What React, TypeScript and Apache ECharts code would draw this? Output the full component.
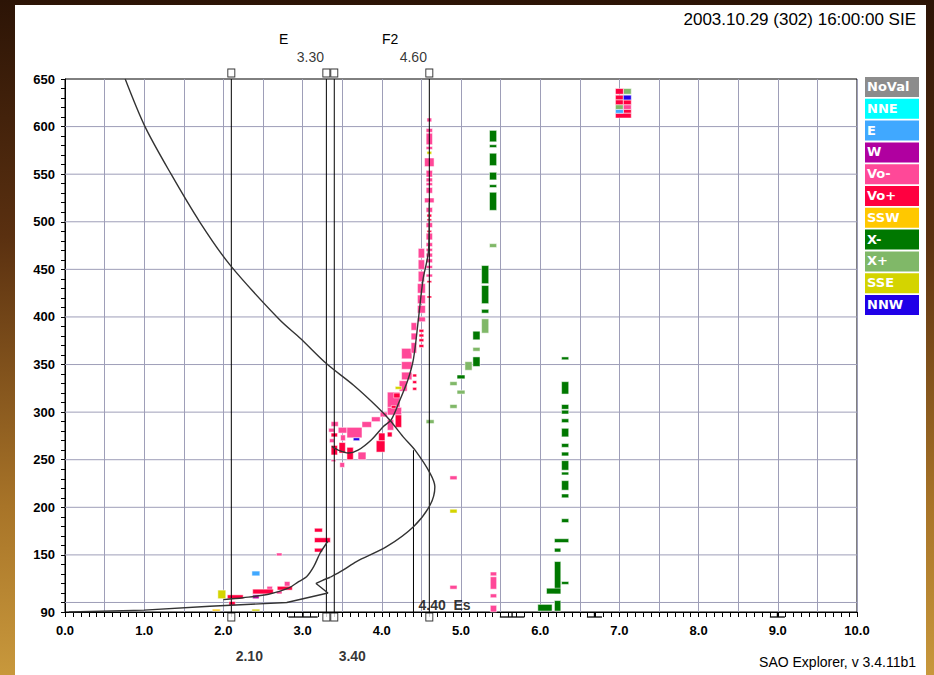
import React, { useEffect, useRef } from "react";
import * as echarts from "echarts";

const TITLE = "2003.10.29 (302) 16:00:00 SIE";
const FOOTER = "SAO Explorer, v 3.4.11b1";
const Y_LABELS = [90, 150, 200, 250, 300, 350, 400, 450, 500, 550, 600, 650];
const H_GRID = [100, 150, 200, 250, 300, 350, 400, 450, 500, 550, 600];
const LEGEND_NAMES = ["NoVal", "NNE", "E", "W", "Vo-", "Vo+", "SSW", "X-", "X+", "SSE", "NNW"];
const LEGEND_COLORS = ["#8c8c8c", "#00ffff", "#40a8ff", "#b000a0", "#ff4898", "#ff0040", "#ffc800", "#007800", "#80b868", "#d4d400", "#2000e8"];

// cells: [fLow, fHigh, hLow, hHigh]
const VO_PLUS = [
  [2.05, 2.25, 104, 108], [2.07, 2.15, 97, 101], [2.37, 2.63, 109, 114], [2.68, 2.87, 113, 117],
  [3.15, 3.25, 174, 178], [3.15, 3.35, 163, 168], [3.15, 3.25, 153, 157],
  [3.36, 3.44, 274, 278], [3.36, 3.44, 255, 265], [3.46, 3.54, 257, 268], [3.56, 3.64, 250, 263],
  [3.93, 4.04, 258, 270], [3.96, 4.04, 270, 278], [4.17, 4.25, 284, 297], [4.07, 4.13, 274, 279],
  [4.15, 4.23, 315, 320], [4.12, 4.18, 304, 307],
  [4.39, 4.44, 337, 340], [4.39, 4.44, 330, 333], [4.39, 4.44, 323, 326],
  [4.47, 4.53, 384, 387], [4.47, 4.53, 379, 382], [4.47, 4.53, 374, 377], [4.47, 4.53, 368, 371],
  [4.57, 4.63, 505, 508], [4.57, 4.63, 501, 503], [4.57, 4.63, 489, 491], [4.57, 4.63, 436, 438], [4.57, 4.63, 420, 422],
  [6.95, 7.05, 634, 640], [6.95, 7.05, 628, 633], [6.95, 7.05, 623, 628], [7.05, 7.15, 623, 628],
  [7.05, 7.15, 614, 618], [6.95, 7.15, 609, 614],
];
const VO_MINUS = [
  [2.55, 2.62, 113, 117], [2.67, 2.74, 109, 112], [2.77, 2.84, 117, 122], [2.67, 2.74, 149, 152],
  [3.36, 3.45, 285, 290], [3.45, 3.56, 278, 284], [3.56, 3.75, 273, 284], [3.75, 3.87, 284, 290],
  [3.87, 3.98, 290, 295], [3.98, 4.07, 295, 300], [3.36, 3.42, 248, 250], [3.47, 3.53, 242, 247],
  [3.34, 3.40, 268, 272], [3.48, 3.54, 270, 276], [3.70, 3.80, 250, 258], [3.33, 3.40, 279, 283],
  [4.07, 4.23, 305, 321], [4.07, 4.25, 297, 305], [4.07, 4.15, 281, 292],
  [4.22, 4.32, 322, 333], [4.25, 4.38, 334, 342], [4.25, 4.38, 345, 353], [4.25, 4.38, 356, 367],
  [4.37, 4.44, 362, 373], [4.37, 4.44, 376, 383], [4.37, 4.44, 386, 394],
  [4.45, 4.55, 395, 400], [4.45, 4.55, 404, 412], [4.45, 4.55, 414, 423], [4.45, 4.55, 425, 435],
  [4.46, 4.54, 437, 448], [4.46, 4.54, 450, 460], [4.46, 4.54, 462, 472],
  [4.56, 4.64, 442, 445], [4.56, 4.64, 451, 454], [4.56, 4.64, 457, 461], [4.56, 4.64, 463, 467], [4.56, 4.64, 469, 472],
  [4.56, 4.64, 474, 478], [4.56, 4.64, 481, 488], [4.56, 4.64, 494, 499], [4.56, 4.64, 510, 515],
  [4.54, 4.66, 520, 525], [4.56, 4.64, 530, 536], [4.56, 4.64, 538, 541], [4.56, 4.64, 542, 546], [4.56, 4.64, 547, 554],
  [4.54, 4.66, 558, 567], [4.56, 4.64, 576, 579], [4.56, 4.64, 581, 593], [4.56, 4.64, 594, 598], [4.57, 4.63, 605, 609],
  [4.86, 4.95, 229, 233], [4.86, 4.95, 114, 118],
  [5.37, 5.45, 128, 132], [5.37, 5.45, 114, 127], [5.37, 5.45, 105, 109], [5.37, 5.45, 90, 97],
  [7.05, 7.15, 618, 623],
];
const X_MINUS = [
  [5.36, 5.45, 584, 596], [5.36, 5.45, 578, 581], [5.36, 5.45, 559, 572], [5.36, 5.45, 544, 552],
  [5.36, 5.45, 536, 539], [5.36, 5.45, 512, 531],
  [5.26, 5.35, 435, 454], [5.26, 5.35, 414, 433], [5.26, 5.35, 404, 408],
  [5.15, 5.24, 376, 385], [5.15, 5.24, 348, 358], [4.95, 5.05, 335, 339],
  [6.27, 6.36, 355, 358], [6.27, 6.36, 319, 332], [6.27, 6.36, 303, 308], [6.27, 6.36, 298, 302],
  [6.27, 6.36, 289, 293], [6.27, 6.36, 274, 283], [6.27, 6.36, 263, 267], [6.27, 6.36, 254, 258],
  [6.27, 6.36, 239, 249], [6.27, 6.36, 234, 237], [6.27, 6.36, 218, 228], [6.27, 6.36, 210, 214],
  [6.27, 6.36, 184, 188], [6.18, 6.36, 163, 167], [6.18, 6.26, 153, 157], [6.18, 6.26, 109, 143],
  [6.27, 6.36, 119, 122], [6.08, 6.26, 109, 115], [5.97, 6.15, 91, 98], [6.18, 6.26, 91, 102],
];
const X_PLUS = [
  [5.36, 5.45, 473, 477], [5.26, 5.35, 383, 398], [5.15, 5.24, 364, 368], [5.05, 5.14, 344, 353],
  [4.86, 4.95, 328, 332], [4.95, 5.05, 319, 323], [4.86, 4.95, 304, 308], [4.56, 4.66, 288, 292],
  [7.05, 7.15, 634, 640], [6.95, 7.05, 618, 623],
];
const SSE = [[1.93, 2.03, 104, 113], [2.36, 2.46, 91, 93], [4.86, 4.95, 194, 198], [4.17, 4.25, 324, 327], [4.57, 4.63, 571, 574]];
const SSW = [[1.86, 1.96, 91, 93]];
const E_DIR = [[2.36, 2.46, 128, 133], [6.95, 7.05, 614, 618]];
const W_DIR = [[2.37, 2.45, 104, 108]];
const NNW = [[3.64, 3.72, 270, 273], [7.05, 7.15, 628, 633]];

// true-height profile; first 8 points are the E-region part drawn unsmoothed
const PROFILE = [
  [0.05, 90], [1.0, 92], [1.83, 96], [2.8, 100], [3.32, 110], [3.17, 120], [3.26, 123.6], [3.35, 126.5],
  [3.51, 134], [3.68, 143], [4.06, 158.6], [4.4, 179.6], [4.61, 202.4], [4.67, 221.6], [4.61, 235.7],
  [4.42, 260], [4.27, 274], [4.1, 291.7], [3.94, 305.7], [3.64, 328.5], [3.3, 351], [2.97, 377.6],
  [2.71, 397], [2.08, 455], [1.7, 500], [1.34, 550], [1.01, 600], [0.76, 650],
];
const PROFILE_SPLIT = 7;
const VIRTUAL_E = [[2.0, 103], [2.25, 105], [2.57, 108.6], [2.82, 115], [2.95, 122], [3.05, 127], [3.14, 137.6], [3.22, 151.7], [3.3, 162], [3.32, 164]];
const VIRTUAL_F = [[3.37, 264], [3.45, 260], [3.58, 257], [3.7, 260], [3.87, 271], [4.02, 285], [4.12, 292], [4.23, 313], [4.33, 334], [4.4, 356], [4.46, 396], [4.52, 439], [4.59, 470], [4.6, 520]];

const SCALED_FREQS = [2.1, 3.3, 3.4, 4.6];
const TOP_LABELS = [[3.3, "3.30"], [4.6, "4.60"]];
const BOTTOM_LABELS = [[2.1, "2.10"], [3.4, "3.40"]];
const ES_FREQ = 4.4;
const ES_TOP = 260;
const ES_LABEL = "4.40  Es";
const GAP_BARS = [[2.82, 3.19], [5.49, 5.8], [6.59, 6.78], [8.9, 9.09]];

const NARROW = '"Liberation Sans Narrow", "Arial Narrow", "Liberation Sans", Arial, sans-serif';
const GRID_COLOR = "#9e9eb8";
const LINE_COLOR = "#333333";

function cellSeries(name: string, color: string, data: number[][]) {
  return {
    type: "custom",
    name,
    coordinateSystem: "cartesian2d",
    data,
    encode: { x: [0, 1], y: [2, 3] },
    z: 3,
    renderItem: (params: any, api: any) => {
      const a = api.coord([api.value(0), api.value(3)]);
      const b = api.coord([api.value(1), api.value(2)]);
      return {
        type: "rect",
        shape: { x: a[0], y: a[1], width: b[0] - a[0], height: b[1] - a[1] },
        style: { fill: color, stroke: "rgba(255,255,255,0.85)", lineWidth: 0.6 },
      };
    },
  };
}

function curve(data: number[][], smooth: number) {
  return {
    type: "line", data, showSymbol: false, z: 7, silent: true, smooth,
    lineStyle: { color: LINE_COLOR, width: 1.4 },
  };
}

export default function App() {
  const ref = useRef<HTMLDivElement>(null);
  useEffect(() => {
    if (!ref.current) return;
    const chart = echarts.init(ref.current, null, { renderer: "svg" });
    const legendGraphics: any[] = [];
    LEGEND_NAMES.forEach((n, i) => {
      const y = 77 + i * 21.8;
      legendGraphics.push({ type: "rect", left: 865, top: y, shape: { width: 54, height: 20 }, style: { fill: LEGEND_COLORS[i] }, z: 10 });
      legendGraphics.push({ type: "text", left: 867, top: y + 3, style: { text: n, fill: "#fff", font: 'bold 13px "DejaVu Sans", Verdana, sans-serif' }, z: 11 });
    });
    const option: any = {
      animation: false,
      backgroundColor: "transparent",
      grid: { left: 65, top: 79, width: 792, height: 533, show: true, backgroundColor: "#fff", borderColor: "#000", borderWidth: 1 },
      xAxis: {
        type: "value", min: 0, max: 10, interval: 0.5,
        axisLine: { show: true, lineStyle: { color: "#000", width: 1 } },
        axisTick: { show: true, length: 5, lineStyle: { color: "#000" } },
        minorTick: { show: true, splitNumber: 5, length: 5, lineStyle: { color: "#000" } },
        splitLine: { show: true, lineStyle: { color: GRID_COLOR, width: 1 } },
        axisLabel: {
          margin: 12, color: "#000", fontSize: 13, fontWeight: "bold", fontFamily: NARROW,
          formatter: (v: number) => (Math.abs(v - Math.round(v)) < 1e-6 ? v.toFixed(1) : ""),
        },
      },
      yAxis: {
        type: "value", min: 90, max: 650, interval: 10,
        axisLine: { show: true, lineStyle: { color: "#000", width: 1 } },
        axisTick: { show: true, length: 4, lineStyle: { color: "#000" } },
        splitLine: { show: false },
        axisLabel: {
          margin: 10, color: "#000", fontSize: 13, fontWeight: "bold", fontFamily: NARROW,
          formatter: (v: number) => (Y_LABELS.includes(Math.round(v)) ? String(Math.round(v)) : ""),
        },
      },
      graphic: [
        { type: "text", right: 18, top: 11, style: { text: TITLE, fill: "#000", font: '17px "Liberation Sans", Arial, sans-serif' } },
        { type: "text", right: 18, top: 655, style: { text: FOOTER, fill: "#000", font: '14px "Liberation Sans Narrow", "Liberation Sans", Arial, sans-serif' } },
        { type: "text", left: 279, top: 32, style: { text: "E", fill: "#000", font: "14px " + NARROW } },
        { type: "text", left: 382, top: 32, style: { text: "F2", fill: "#000", font: "14px " + NARROW } },
        ...legendGraphics,
      ],
      series: [
        {
          type: "custom", coordinateSystem: "cartesian2d", data: H_GRID.map((h) => [0, h]), z: 1, silent: true,
          renderItem: (p: any, api: any) => {
            const a = api.coord([0, api.value(1)]);
            const b = api.coord([10, api.value(1)]);
            return { type: "line", shape: { x1: a[0], y1: a[1], x2: b[0], y2: b[1] }, style: { stroke: GRID_COLOR, lineWidth: 1 } };
          },
        },
        cellSeries("X-", LEGEND_COLORS[7], X_MINUS),
        cellSeries("X+", LEGEND_COLORS[8], X_PLUS),
        cellSeries("Vo-", LEGEND_COLORS[4], VO_MINUS),
        cellSeries("Vo+", LEGEND_COLORS[5], VO_PLUS),
        cellSeries("SSE", LEGEND_COLORS[9], SSE),
        cellSeries("SSW", LEGEND_COLORS[6], SSW),
        cellSeries("E", LEGEND_COLORS[2], E_DIR),
        cellSeries("W", LEGEND_COLORS[3], W_DIR),
        cellSeries("NNW", LEGEND_COLORS[10], NNW),
        {
          type: "custom", coordinateSystem: "cartesian2d", data: SCALED_FREQS.map((f) => [f, 90]), z: 6, silent: true,
          renderItem: (p: any, api: any) => {
            const a = api.coord([api.value(0), 90]);
            const b = api.coord([api.value(0), 650]);
            return { type: "line", shape: { x1: a[0], y1: a[1], x2: b[0], y2: b[1] }, style: { stroke: "#000", lineWidth: 1 } };
          },
        },
        {
          type: "custom", coordinateSystem: "cartesian2d", data: GAP_BARS.map((g) => [g[0], g[1]]), z: 6, silent: true,
          renderItem: (p: any, api: any) => {
            const a = api.coord([api.value(0), 90]);
            const b = api.coord([api.value(1), 90]);
            const m = (a[0] + b[0]) / 2;
            return {
              type: "group",
              children: [
                { type: "line", shape: { x1: a[0], y1: a[1] + 5, x2: b[0], y2: b[1] + 5 }, style: { stroke: "#000", lineWidth: 1.3 } },
                { type: "line", shape: { x1: m, y1: a[1], x2: m, y2: a[1] + 5 }, style: { stroke: "#000", lineWidth: 1.3 } },
              ],
            };
          },
        },
        {
          type: "line", data: [[ES_FREQ, 90], [ES_FREQ, ES_TOP]], showSymbol: false, z: 6, silent: true,
          lineStyle: { color: "#000", width: 1 },
        },
        curve(PROFILE.slice(0, PROFILE_SPLIT + 1), 0),
        curve(PROFILE.slice(PROFILE_SPLIT), 0.3),
        curve(VIRTUAL_E, 0.3),
        curve(VIRTUAL_F, 0.3),
        {
          type: "scatter", clip: false, z: 8, silent: true, symbol: "rect", symbolSize: [7, 8], symbolOffset: [0, -6],
          data: SCALED_FREQS.map((f) => [f, 650]),
          itemStyle: { color: "#fff", borderColor: "#000", borderWidth: 1 },
        },
        {
          type: "scatter", clip: false, z: 8, silent: true, symbol: "rect", symbolSize: [7, 8], symbolOffset: [0, 5],
          data: SCALED_FREQS.map((f) => [f, 90]),
          itemStyle: { color: "#fff", borderColor: "#000", borderWidth: 1 },
        },
        {
          type: "scatter", clip: false, z: 8, silent: true, symbolSize: 0,
          data: TOP_LABELS.map((t) => ({ value: [t[0], 650], name: t[1] })),
          label: { show: true, position: "top", distance: 15, offset: [-16, 0], formatter: "{b}", color: "#000", fontSize: 14, fontFamily: NARROW },
        },
        {
          type: "scatter", clip: false, z: 8, silent: true, symbolSize: 0,
          data: BOTTOM_LABELS.map((t) => ({ value: [t[0], 90], name: t[1] })),
          label: { show: true, position: "bottom", distance: 37, offset: [18, 0], formatter: "{b}", color: "#000", fontSize: 14, fontWeight: "bold", fontFamily: NARROW },
        },
        {
          type: "scatter", clip: false, z: 8, silent: true, symbolSize: 0,
          data: [{ value: [ES_FREQ, 90], name: ES_LABEL }],
          label: { show: true, position: "right", distance: 5, offset: [0, -7], formatter: "{b}", color: "#000", fontSize: 14, fontWeight: "bold", fontFamily: NARROW },
        },
      ],
    };
    chart.setOption(option);
    return () => chart.dispose();
  }, []);
  return (
    <div style={{ position: "fixed", left: 0, top: 0, width: 934, height: 675, background: "linear-gradient(180deg, #2c1406 0%, #5a3010 35%, #a87428 75%, #c8983c 100%)", overflow: "hidden" }}>
      <div style={{ position: "absolute", left: 15, top: 5, width: 911, height: 670, background: "#fff" }} />
      <div ref={ref} style={{ position: "absolute", left: 0, top: 0, width: 934, height: 675 }} />
    </div>
  );
}
